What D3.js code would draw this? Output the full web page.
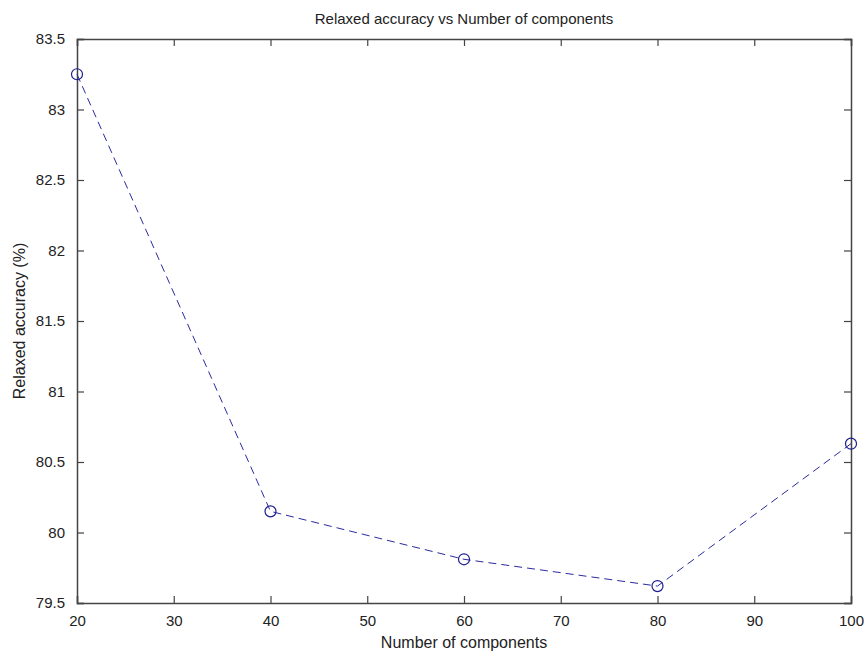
<!DOCTYPE html>
<html>
<head>
<meta charset="utf-8">
<script src="https://cdn.jsdelivr.net/npm/d3@7"></script>
<style>
  body { margin: 0; background: #fff; }
  svg { display: block; }
  text { font-family: "Liberation Sans Narrow", "Liberation Sans", Arial, sans-serif; fill: #222; }
</style>
</head>
<body>
<svg id="chart" width="867" height="653"></svg>
<script>
// data
const components = [20, 40, 60, 80, 100];
const accuracy = [83.25, 80.15, 79.81, 79.62, 80.63];
const xTicks = [20, 30, 40, 50, 60, 70, 80, 90, 100];
const yTicks = [79.5, 80, 80.5, 81, 81.5, 82, 82.5, 83, 83.5];

const W = 867, H = 653;
const m = {left: 77, right: 16, top: 39, bottom: 50};
const svg = d3.select("#chart");

const x = d3.scaleLinear().domain([20, 100]).range([m.left, W - m.right]);
const y = d3.scaleLinear().domain([79.5, 83.5]).range([H - m.bottom, m.top]);

const axisColor = "#444";
const tickLen = 7;

// bottom axis with labels
const gx = svg.append("g").attr("transform", `translate(0,${H - m.bottom})`)
  .call(d3.axisBottom(x).tickValues(xTicks).tickSize(-tickLen).tickPadding(tickLen + 5).tickFormat(d3.format("d")));
// left axis with labels
const gy = svg.append("g").attr("transform", `translate(${m.left},0)`)
  .call(d3.axisLeft(y).tickValues(yTicks).tickSize(-tickLen).tickPadding(tickLen + 5).tickFormat(d => String(d)));
// top + right, ticks only
const gt = svg.append("g").attr("transform", `translate(0,${m.top})`)
  .call(d3.axisTop(x).tickValues(xTicks).tickSize(-tickLen).tickFormat(""));
const gr = svg.append("g").attr("transform", `translate(${W - m.right},0)`)
  .call(d3.axisRight(y).tickValues(yTicks).tickSize(-tickLen).tickFormat(""));

[gx, gy, gt, gr].forEach(g => {
  g.select(".domain").attr("stroke", axisColor).attr("stroke-width", 1.5);
  g.selectAll(".tick line").attr("stroke", axisColor).attr("stroke-width", 1.2);
  g.selectAll(".tick text").attr("font-size", 15).attr("fill", "#222")
    .style("font-family", '"Liberation Sans Narrow", "Liberation Sans", Arial, sans-serif');
});

// dashed line
const pts = components.map((c, i) => [c, accuracy[i]]);
svg.append("path")
  .datum(pts)
  .attr("fill", "none")
  .attr("stroke", "#2a2aa0")
  .attr("stroke-width", 1)
  .attr("stroke-dasharray", "8,5")
  .attr("d", d3.line().x(d => x(d[0])).y(d => y(d[1])));

svg.append("g").selectAll("circle")
  .data(pts).join("circle")
  .attr("cx", d => x(d[0])).attr("cy", d => y(d[1]))
  .attr("r", 5.5)
  .attr("fill", "none").attr("stroke", "#1e1e90").attr("stroke-width", 1.2);

// titles
svg.append("text")
  .attr("x", (m.left + W - m.right) / 2).attr("y", 24)
  .attr("text-anchor", "middle").attr("font-size", 15)
  .text("Relaxed accuracy vs Number of components");

svg.append("text")
  .attr("x", (m.left + W - m.right) / 2).attr("y", 648)
  .attr("text-anchor", "middle").attr("font-size", 16)
  .text("Number of components");

svg.append("text")
  .attr("transform", `translate(25,${(m.top + H - m.bottom) / 2}) rotate(-90)`)
  .attr("text-anchor", "middle").attr("font-size", 16)
  .text("Relaxed accuracy (%)");
</script>
</body>
</html>
